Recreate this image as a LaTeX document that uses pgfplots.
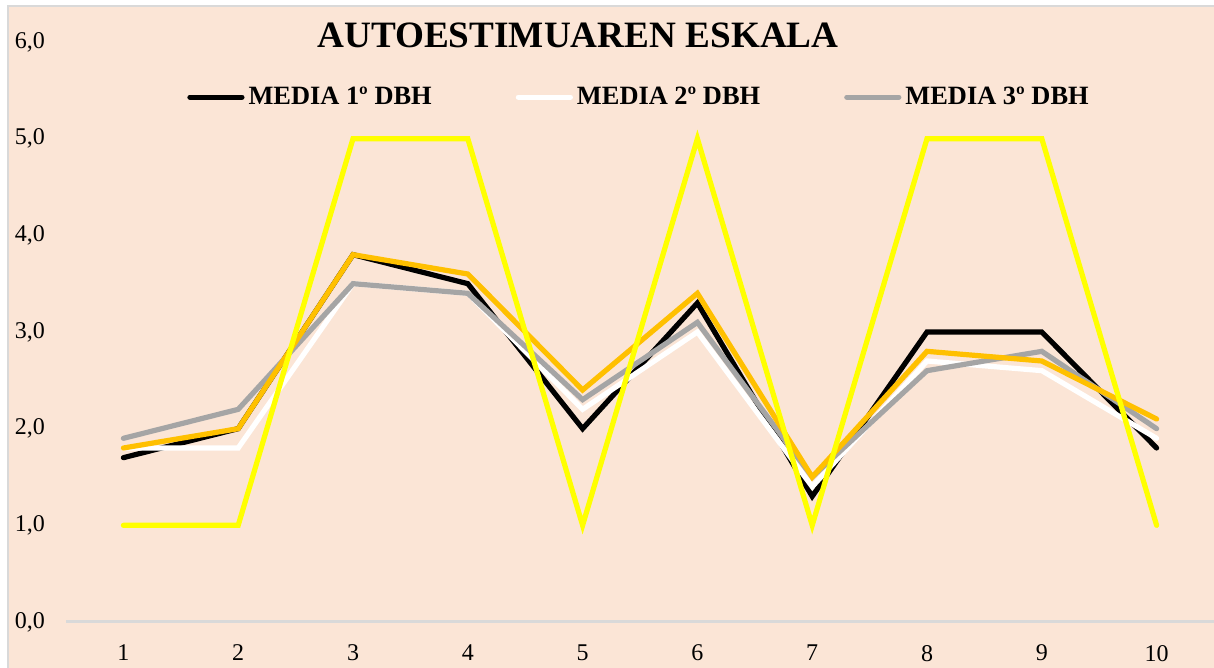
\documentclass[border=0pt]{standalone}
\usepackage{fontspec}
\setmainfont{Liberation Serif}
\usepackage{pgfplots}
\pgfplotsset{compat=1.18}
\definecolor{bgpeach}{HTML}{FBE5D6}
\definecolor{frame}{HTML}{D9D9D9}
\definecolor{mgray}{HTML}{A5A5A5}
\definecolor{morange}{HTML}{FFC000}
\definecolor{myellow}{HTML}{FFFF00}

\begin{document}
\begin{tikzpicture}
\useasboundingbox (0,0) rectangle (607pt,334pt);
\fill[white] (0,0) rectangle (607pt,334pt);
\filldraw[fill=bgpeach, draw=frame, line width=1pt] (4pt,-5pt) rectangle (615pt,331pt);
\begin{axis}[
    at={(33pt,23pt)}, anchor=south west,
    scale only axis, width=574pt, height=290pt,
    xmin=0.5, xmax=10.5, ymin=0, ymax=6,
    xtick={1,...,10}, ytick={0,1,...,6},
    axis lines*=left,
    x axis line style={draw=frame, line width=1.5pt},
    y axis line style={draw=none},
    major tick length=0pt,
    /pgf/number format/assume math mode=true,
    tick label style={font=\fontsize{12}{14}\selectfont},
    yticklabel style={anchor=east, xshift=-7pt,
        /pgf/number format/.cd, fixed, fixed zerofill, precision=1, use comma},
    xticklabel style={yshift=-8pt},
    title={\textbf{AUTOESTIMUAREN ESKALA}},
    title style={at={(0.446,0.991)}, anchor=center, font=\fontsize{18.6}{22}\selectfont},
    legend columns=3,
    legend style={at={(0.5,0.905)}, anchor=center, draw=none, fill=none,
        font=\fontsize{13.2}{15}\selectfont\bfseries,
        /tikz/every even column/.append style={column sep=40pt}},
    legend image code/.code={\draw[#1, line cap=round] (0pt,0pt) -- (26pt,0pt);},
    every axis plot/.append style={line width=2.6pt, line cap=round, mark=none},
]
\addplot[black] coordinates {
    (1,1.7) (2,2.0) (3,3.8) (4,3.5) (5,2.0) (6,3.3) (7,1.3) (8,3.0) (9,3.0) (10,1.8)};
\addplot[white] coordinates {
    (1,1.8) (2,1.8) (3,3.5) (4,3.4) (5,2.2) (6,3.0) (7,1.4) (8,2.7) (9,2.6) (10,1.9)};
\addplot[mgray] coordinates {
    (1,1.9) (2,2.2) (3,3.5) (4,3.4) (5,2.3) (6,3.1) (7,1.5) (8,2.6) (9,2.8) (10,2.0)};
\addplot[morange, forget plot] coordinates {
    (1,1.8) (2,2.0) (3,3.8) (4,3.6) (5,2.4) (6,3.4) (7,1.5) (8,2.8) (9,2.7) (10,2.1)};
\addplot[myellow, forget plot] coordinates {
    (1,1) (2,1) (3,5) (4,5) (5,1) (6,5) (7,1) (8,5) (9,5) (10,1)};
\legend{MEDIA 1º DBH, MEDIA 2º DBH, MEDIA 3º DBH}
\end{axis}
\end{tikzpicture}
\end{document}
